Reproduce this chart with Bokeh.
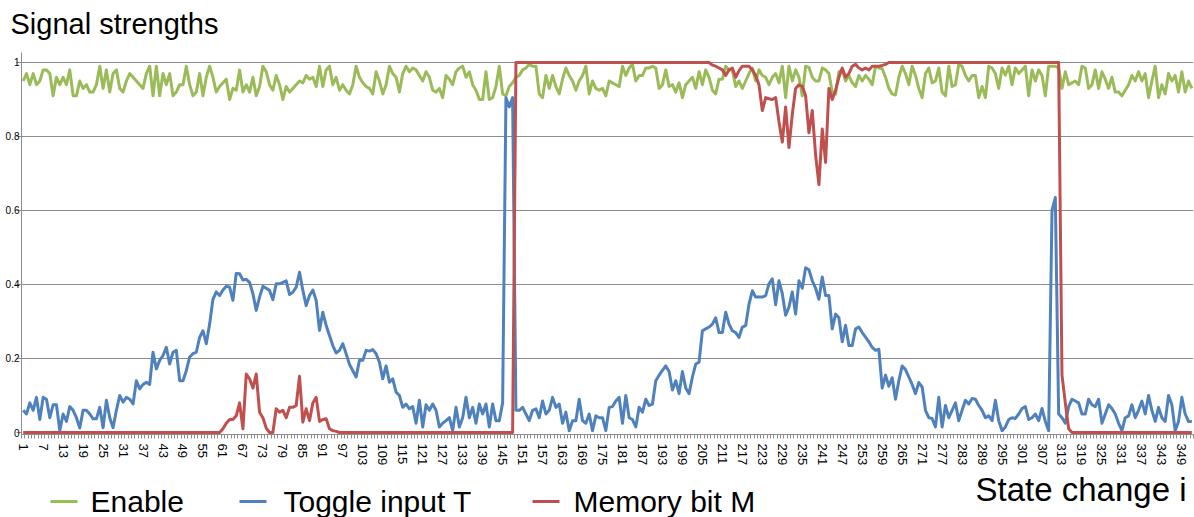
from bokeh.plotting import figure
from bokeh.layouts import column
from bokeh.models import Range1d, FixedTicker
from bokeh.embed import file_html
from bokeh.resources import INLINE
from bokeh.core.properties import value

# State change index i
state = list(range(1, 353))

# Enable signal
enable = [
    .95, .97, .94, .97, .94, .95, .98, .98, .97, .91,
    .96, .94, .96, .94, .98, .91, .91, .95, .93, .94,
    .92, .92, .94, .99, .93, .98, .92, .97, .98, .93,
    .92, .95, .97, .96, .95, .94, .93, .97, .99, .91,
    .99, .91, .97, .94, .97, .91, .92, .94, .94, .99,
    .94, .91, .92, .97, .91, .96, .99, .96, .92,
    .935, .945, .955, .90, .93, .925, .98, .92, .94, .92,
    .96, .91, .935, .99, .975, .94, .925, .965, .94, .90,
    .935, .92, .93, .94, .95, .945, .965, .955, .96, .935,
    .99, .935, .98, .99, .94, .96, .925, .94, .925, .915,
    .94, .99, .96, .945, .935, .93, .915, .975, .95, .915,
    .94, .99, .97, .96, .92, .97, .99, .975, .985, .98,
    .965, .95, .975, .96, .925, .92, .93, .905, .965, .955,
    .94, .975, .985, .99, .96, .975, .94, .925, .90, .90,
    .975, .90, .905, .935, .99, .915, .91, .935, .945, .96,
    .965, .98, .985, .995, .99, .99, .915, .905, .965, .93,
    .965, .935, .915, .955, .985, .965, .95, .925, .95, .965,
    .99, .915, .95, .93, .925, .93, .91, .95, .945, .94,
    .935, .99, .965, .985, .995, .95, .965, .965, .985, .985,
    .99, .985, .93, .94, .98, .935, .94, .92, .945, .905,
    .94, .95, .96, .93, .975, .94, .98, .96, .925, .915,
    .955, .955, .99, .98, .98, .935, .95, .93, .95, .97,
    .985, .95, .98, .965, .96, .94, .96, .97, .945, .99,
    .905, .99, .95, .98, .96, .91, .99, .987, .96, .95,
    .95, .985, .98, .97, .92, .915, .975, .98, .95, .965,
    .945, .935, .965, .95, .965, .955, .94, .99, .985, .983,
    .96, .93, .915, .912, .96, .99, .97, .94, .99, .965,
    .93, .905, .97, .985, .945, .95, .985, .92, .91, .99,
    .935, .94, .995, .99, .965, .95, .965, .965, .905, .935,
    .905, .99, .985, .97, .93, .985, .966, .99, .94, .985,
    .97, .98, .99, .91, .98, .95, .98, .965, .91, .99,
    .99, .99, .985, .93, .975, .94, .945, .95, .94, .99,
    .985, .93, .94, .98, .93, .975, .955, .93, .96, .92,
    .92, .91, .925, .94, .965, .95, .975, .95, .97, .905,
    .95, .99, .905, .94, .915, .97, .95, .965, .92, .975,
    .92, .95, .93,
]

# Toggle input T
toggle = [
    .06, .05, .08, .06, .095, .035, .095, .09, .04, .075,
    .075, .005, .05, .03, .07, .06, .04, .012, .06, .06,
    .05, .037, .037, .068, .013, .087, .04, .013, .06, .10,
    .082, .095, .09, .077, .14, .118, .13, .136, .13, .217,
    .172, .195, .208, .23, .185, .217, .222, .14, .14, .167,
    .204, .213, .217, .257, .275, .24, .293, .36, .38,
    .37, .385, .395, .393, .357, .43, .429, .412, .414, .406,
    .375, .33, .366, .395, .39, .384, .359, .402, .402, .406,
    .41, .373, .379, .393, .433, .384, .343, .37, .385, .357,
    .276, .325, .289, .262, .235, .215, .222, .24, .213, .184,
    .167, .15, .195, .195, .222, .22, .224, .213, .19, .145,
    .18, .136, .145, .109, .1, .068, .077, .064, .07, .025,
    .087, .015, .075, .06, .077, .06, .015, .025, .032, .04,
    .005, .068, .015, .04, .095, .04, .068, .025, .077, .05,
    .077, .015, .077, .032, .032, .08, .905, .88, .905, .06,
    .06, .068, .05, .032, .06, .064, .04, .085, .05, .06,
    .095, .068, .077, .025, .055, .005, .032, .032, .09, .032,
    .025, .05, .005, .045, .04, .04, .005, .068, .07, .085,
    .095, .025, .1, .04, .035, .015, .068, .055, .09, .073,
    .077, .14, .155, .168, .18, .165, .115, .14, .105, .165,
    .12, .105, .15, .185, .19, .275, .28, .285, .293, .31,
    .27, .27, .325, .293, .275, .27, .257, .285, .289, .347,
    .383, .366, .366, .366, .37, .402, .415, .345, .41, .375,
    .317, .339, .38, .32, .41, .39, .445, .44, .41, .39,
    .36, .42, .37, .37, .28, .32, .31, .245, .29, .235,
    .235, .28, .285, .27, .258, .245, .23, .222, .225, .12,
    .155, .125, .148, .09, .14, .18, .17, .15, .13, .105,
    .135, .123, .06, .04, .038, .015, .095, .015, .073, .04,
    .06, .08, .032, .06, .087, .077, .092, .09, .073, .06,
    .04, .045, .032, .087, .032, .005, .015, .035, .04, .038,
    .05, .065, .07, .035, .04, .05, .032, .065, .03, .005,
    .60, .635, .05, .04, .025, .07, .09, .085, .08, .05,
    .05, .09, .075, .07, .09, .025, .05, .075, .065, .05,
    .025, .005, .04, .045, .075, .04, .06, .085, .05, .1,
    .06, .03, .068, .04, .03, .1, .075, .005, .03, .095,
    .05, .03, .03,
]

# Memory bit M
memory = (
    [0.0] * 59
    + [0.0, .01, .025, .035, .035, .045, .08, .01, .158, .145,
       .12, .158, .055, .04, .012, 0.0, 0.0, .064, .055, .06,
       .04, .068, .068, .073, .152, .028, .064, .032, .08, .095,
       .03, .035, .037, .01, .005, .003]
    + [0.0] * 53
    + [1.0] * 58
    + [1.0, .993, .99, .985, .98, .965, .98, .985, .96, .978,
       .99, .99, .99, .98, .965, .94, .87, .905, .902, .9,
       .905, .84, .785, .88, .77, .86, .93, .94, .935, .91,
       .81, .87, .75, .67, .82, .73, .93, .9, .925, .96,
       .985, .96, .97, .99, .995, .985, .98, .985, .98, .99,
       .99, .99, .992, .995]
    + [1.0] * 52
    + [.155, .08, .01]
    + [0.0] * 37
)

assert len(enable) == len(toggle) == len(memory) == len(state)

series_names = ["Enable", "Toggle input T", "Memory bit M"]
y_ticks = [0, 0.2, 0.4, 0.6, 0.8, 1.0]
y_tick_labels = ["0", "0.2", "0.4", "0.6", "0.8", "1"]
x_tick_step = 6

FONT = "Liberation Sans"
COLORS = ["#9BBB59", "#4F81BD", "#C0504D"]
GREY = "#8c8c8c"
W = 1194
PLOT_LEFT, PLOT_RIGHT = 21, 1193   # page x of the chart's plotting area


def strip(height, top, x0, x1):
    """A bare full-width panel whose data coordinates are page pixels."""
    f = figure(width=W, height=height, output_backend="svg", toolbar_location=None,
               title=None,
               x_range=Range1d(x0, x1), y_range=Range1d(top + height, top),
               x_axis_type=None, y_axis_type=None,
               min_border=0, min_border_left=0, min_border_right=0,
               min_border_top=0, min_border_bottom=0)
    f.outline_line_color = None
    f.background_fill_color = "white"
    f.border_fill_color = "white"
    return f


# ---- title strip ----
head = strip(52, 0, 0, W)
head.text(x=[10], y=[23], text=["Signal strengths"], text_font=value(FONT),
          text_font_size="29px", text_color="black", text_baseline="middle",
          text_align="left")

# ---- main chart ----
p = figure(
    width=W, height=418, output_backend="svg", toolbar_location=None, title=None,
    x_range=Range1d(0.5, len(state) + 0.5), y_range=Range1d(-0.0054, 1.027),
    min_border_left=PLOT_LEFT, min_border_right=W - PLOT_RIGHT,
    min_border_top=0, min_border_bottom=36,
)
p.outline_line_color = None
p.background_fill_color = "white"
p.border_fill_color = "white"

for ys, c in zip([enable, toggle, memory], COLORS):
    p.line(state, ys, line_color=c, line_width=3, line_join="round")

# category-style x axis: labels every 6th state, marks between every state
xa = p.xaxis[0]
xa.ticker = FixedTicker(ticks=state[::x_tick_step],
                        minor_ticks=[k + 0.5 for k in range(0, len(state) + 1)])
xa.axis_line_color = GREY
xa.major_tick_line_color = None
xa.major_tick_out = 4
xa.major_tick_in = 0
xa.minor_tick_line_color = GREY
xa.minor_tick_out = 4
xa.minor_tick_in = 0
xa.major_label_orientation = "vertical"
xa.major_label_standoff = 5
xa.major_label_text_font = FONT
xa.major_label_text_font_size = "13px"
xa.major_label_text_color = "black"
p.xgrid.visible = False

ya = p.yaxis[0]
ya.ticker = FixedTicker(ticks=y_ticks, minor_ticks=[])
ya.axis_line_color = GREY
ya.major_tick_line_color = GREY
ya.major_tick_out = 5
ya.major_tick_in = 0
ya.major_label_overrides = dict(zip(y_ticks, y_tick_labels))
ya.major_label_standoff = -3
ya.major_label_text_font = FONT
ya.major_label_text_font_size = "10px"
ya.major_label_text_color = "black"
p.ygrid.ticker = FixedTicker(ticks=y_ticks[1:], minor_ticks=[])
p.ygrid.grid_line_color = GREY
p.ygrid.grid_line_width = 1

# ---- legend and x-axis title strip (shares the chart's horizontal extent) ----
foot = strip(47, 470, PLOT_LEFT, PLOT_RIGHT)
legend_glyph_x0 = [50, 239, 532]
legend_glyph_len = 27
legend_text_x = [90, 283, 573]
legend_y = 501
foot.segment(x0=legend_glyph_x0, y0=[legend_y] * 3,
             x1=[x + legend_glyph_len for x in legend_glyph_x0], y1=[legend_y] * 3,
             line_color=COLORS, line_width=3)
foot.text(x=legend_text_x, y=[legend_y] * 3, text=series_names,
          text_font=value(FONT), text_font_size="30px", text_color="black",
          text_baseline="middle", text_align="left")
foot.text(x=[1186], y=[489], text=["State change i"], text_font=value(FONT),
          text_font_size="33px", text_color="black", text_baseline="middle",
          text_align="right")

page = column(head, column(p, foot, spacing=0), spacing=0)
open("out.html", "w").write(file_html(page, INLINE))
